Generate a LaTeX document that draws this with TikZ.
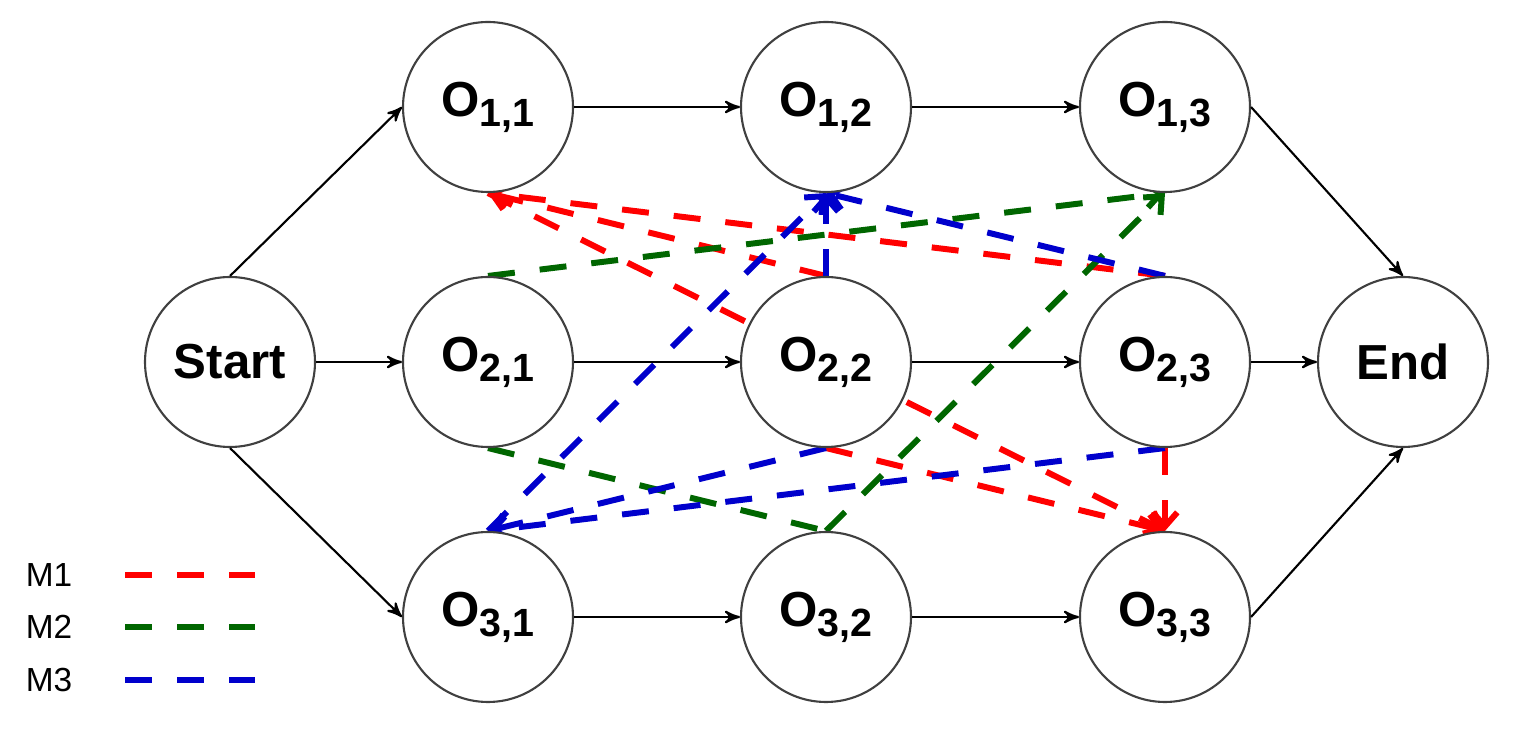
\documentclass[tikz,border=0pt]{standalone}
\usepackage{fontspec}
\setmainfont{Liberation Sans}
\usepackage{tikz}
\usetikzlibrary{arrows,arrows.meta,automata}
\usetikzlibrary{backgrounds}
\usepackage{xcolor}

\definecolor{mred}{HTML}{FF0000}
\definecolor{mgreen}{HTML}{006600}
\definecolor{mblue}{HTML}{0000CC}

\newcommand{\opn}[2]{\textbf{O}\raisebox{-2.9pt}{\fontsize{11.2}{13}\selectfont\textbf{#1,#2}}}

\begin{document}
\begin{tikzpicture}[->,>=stealth',auto,semithick]
\tikzstyle{every state}=[draw=black!75,fill=white,text=black,minimum size=1.7cm,inner sep=0pt,font=\fontsize{14}{16}\selectfont\bfseries]
\tikzstyle{mach}=[line width=1.7pt,dash pattern=on 0.27cm off 0.25cm,-{Straight Barb[length=4pt,width=7pt]}]
\tikzstyle{m1}=[mach,draw=mred]
\tikzstyle{m2}=[mach,draw=mgreen]
\tikzstyle{m3}=[mach,draw=mblue]
\useasboundingbox (0,0) rectangle (15.24,7.36);

\node[state]         (S)  at (2.30,3.74)                     {Start};
\node[state]         (O21) [right of=S,node distance=2.58cm]   {\opn{2}{1}};
\node[state]         (O11) [above of=O21,node distance=2.55cm] {\opn{1}{1}};
\node[state]         (O31) [below of=O21,node distance=2.55cm] {\opn{3}{1}};
\node[state]         (O12) [right of=O11,node distance=3.38cm] {\opn{1}{2}};
\node[state]         (O22) [right of=O21,node distance=3.38cm] {\opn{2}{2}};
\node[state]         (O32) [right of=O31,node distance=3.38cm] {\opn{3}{2}};
\node[state]         (O13) [right of=O12,node distance=3.39cm] {\opn{1}{3}};
\node[state]         (O23) [right of=O22,node distance=3.39cm] {\opn{2}{3}};
\node[state]         (O33) [right of=O32,node distance=3.39cm] {\opn{3}{3}};
\node[state]         (E)  [right of=O23,node distance=2.38cm]  {End};

\path
(S)   edge (O21)
(S.north) edge (O11.west)
(S.south) edge (O31.west)
(O11) edge (O12)
(O12) edge (O13)
(O21) edge (O22)
(O22) edge (O23)
(O31) edge (O32)
(O32) edge (O33)
(O13.east) edge (E.north)
(O23) edge (E)
(O33.east) edge (E.south);

% machine sequences, behind the nodes
\begin{pgfonlayer}{background}
\path
(O23.north) edge[m1] (O11.south)
(O22.north) edge[m1] (O11.south)
(O11.south) edge[m1] (O33.north)
(O22.south) edge[m1] (O33.north)
(O23.south) edge[m1] (O33.north);
\path
(O21.north) edge[m2] (O13.south)
(O32.north) edge[m2] (O13.south)
(O21.south) edge[m2,-] (O32.north);
\path
(O22.north) edge[m3] (O12.south)
(O31.north) edge[m3] (O12.south)
(O23.north) edge[m3] (O12.south)
(O23.south) edge[m3] (O31.north)
(O22.south) edge[m3] (O31.north);
\end{pgfonlayer}

% legend
\node (L1) at (0.49,1.61) {\fontsize{9.5}{11}\selectfont M1};
\node (L2) at (0.49,1.09) {\fontsize{9.5}{11}\selectfont M2};
\node (L3) at (0.49,0.56) {\fontsize{9.5}{11}\selectfont M3};
\coordinate (a1) at (1.25,1.61); \coordinate (b1) at (2.55,1.61);
\coordinate (a2) at (1.25,1.09); \coordinate (b2) at (2.55,1.09);
\coordinate (a3) at (1.25,0.56); \coordinate (b3) at (2.55,0.56);
\draw[m1,-] (a1) -- (b1);
\draw[m2,-] (a2) -- (b2);
\draw[m3,-] (a3) -- (b3);
\end{tikzpicture}
\end{document}
